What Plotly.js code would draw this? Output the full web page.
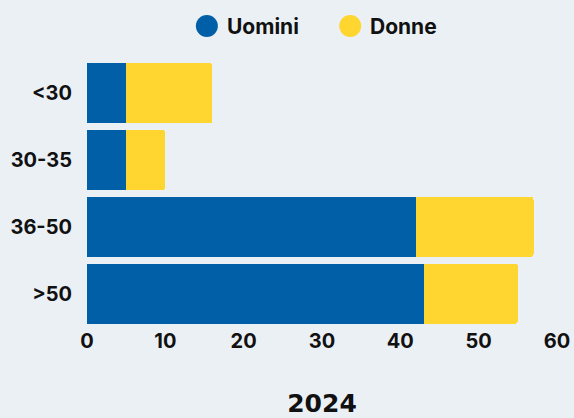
<!DOCTYPE html>
<html><head><meta charset="utf-8">
<script src="https://cdn.plot.ly/plotly-3.0.1.min.js"></script>
<style>html,body{margin:0;padding:0;background:#EBF0F5;}</style>
</head><body>
<div id="chart" style="width:574px;height:418px;"></div>
<script>
const categories = ['<30', '30-35', '36-50', '>50'];
const uomini = [5, 5, 42, 43];
const donne = [11, 5, 15, 12];
const seriesNames = ['Uomini', 'Donne'];
const colors = ['#005FA6', '#FFD530'];
const yearTitle = '2024';

const traces = [
  {type:'bar', orientation:'h', y:categories, x:uomini, name:seriesNames[0], marker:{color:colors[0]}, showlegend:false, hoverinfo:'x+name'},
  {type:'bar', orientation:'h', y:categories, x:donne, name:seriesNames[1], marker:{color:colors[1]}, showlegend:false, hoverinfo:'x+name'}
];

// custom legend (large circles)
const legendX = [0.255, 0.56];   // paper x of circle centres
const legendY = 1.127;
const shapes = seriesNames.map((n, i) => ({
  type:'circle', xref:'paper', yref:'paper', xsizemode:'pixel', ysizemode:'pixel',
  xanchor:legendX[i], yanchor:legendY, x0:-11, x1:11, y0:-11, y1:11,
  fillcolor:colors[i], line:{width:0}
}));
const annotations = seriesNames.map((n, i) => ({
  text:n, xref:'paper', yref:'paper', x:legendX[i], y:legendY, xanchor:'left', yanchor:'middle',
  xshift:18, showarrow:false, font:{size:21, weight:700, color:'#111'}
}));

const layout = {
  width:574, height:418,
  paper_bgcolor:'#EBF0F5', plot_bgcolor:'#EBF0F5',
  barmode:'stack', bargap:0.1, barcornerradius:3,
  margin:{l:87, r:17, t:60, b:91},
  font:{family:'Inter, "Open Sans", sans-serif', color:'#111', size:20, weight:700},
  showlegend:false,
  shapes:shapes, annotations:annotations,
  xaxis:{range:[0,60], dtick:10, showgrid:false, zeroline:false, showline:false, ticks:'', tickfont:{size:20, weight:700},
         title:{text:yearTitle, font:{size:25, weight:700, family:'"DejaVu Sans", sans-serif'}, standoff:54}},
  yaxis:{categoryorder:'array', categoryarray:categories, autorange:'reversed', showgrid:false, zeroline:false, showline:false, ticks:'', ticklabelstandoff:14, tickfont:{size:20, weight:700}}
};

Plotly.newPlot('chart', traces, layout, {displayModeBar:false, staticPlot:true});
</script>
</body></html>
